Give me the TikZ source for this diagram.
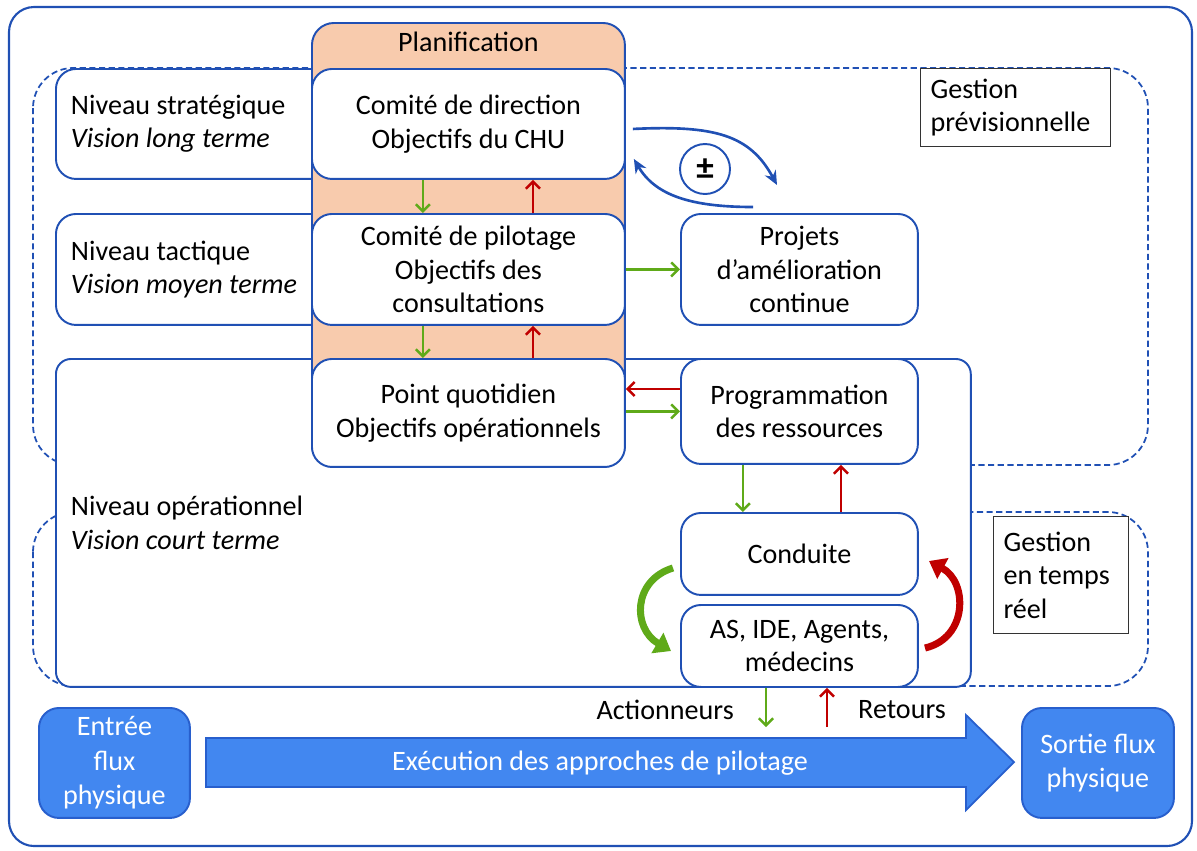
\documentclass[tikz,border=0pt]{standalone}
\usepackage{fontspec}
\setmainfont{Carlito}
\usetikzlibrary{arrows.meta}
\definecolor{bleu}{RGB}{32,80,180}
\definecolor{saumon}{RGB}{248,203,173}
\definecolor{vert}{RGB}{95,170,25}
\definecolor{rouge}{RGB}{192,0,0}
\definecolor{flux}{RGB}{66,135,240}
\definecolor{fluxbord}{RGB}{40,95,205}
\tikzset{
	txt/.style={font=\fontsize{16}{19}\selectfont},
	boite/.style={txt, draw=bleu, line width=1.1pt, fill=white, rounded corners=0.4cm, align=center, inner sep=0pt, anchor=north west},
	niveau/.style={boite, align=flush left, inner xsep=0.3cm, text width=#1},
	gestion/.style={draw=bleu, line width=1pt, dash pattern=on 3.5pt off 2pt, rounded corners=0.8cm},
	cadre/.style={txt, draw=black!80, line width=0.6pt, fill=white, align=flush left, anchor=north west, inner ysep=0pt, inner xsep=0.2cm, text width=#1},
	physique/.style={boite, draw=fluxbord, fill=flux, text=white, font=\fontsize{16}{19.6}\selectfont},
	vertfl/.style={draw=vert, line width=1.4pt, -{Straight Barb[length=4pt,width=8pt]}},
	rougefl/.style={draw=rouge, line width=1.4pt, -{Straight Barb[length=4pt,width=8pt]}},
	boucle/.style={draw=bleu, line width=1.5pt, -{Stealth[length=8pt,width=7pt]}},
	epais/.style={draw=#1, line width=4pt, -{Triangle[length=9pt,width=13pt]}}
}

\begin{document}
\begin{tikzpicture}[x=0.02cm, y=-0.02cm]
	%%%%% START %%%%%
	\useasboundingbox (0,0) rectangle (1197,850);
	\draw[bleu, line width=1.2pt, rounded corners=0.5cm] (9,7) rectangle (1192,846);
	
	% zones de gestion
	\draw[gestion] (33,68) rectangle (1148,465);
	\draw[gestion] (33,512) rectangle (1148,686);
	
	% niveaux
	\node[niveau=10.7cm, minimum height=2.2cm] (strat) at (55,68) {Niveau stratégique\\\textit{Vision long terme}};
	\node[niveau=10.7cm, minimum height=2.22cm] (tact) at (55,213) {Niveau tactique\\\textit{Vision moyen terme}};
	\node[niveau=17.7cm, minimum height=6.56cm, rounded corners=0.3cm] (oper) at (55,358) {Niveau opérationnel\\\textit{Vision court terme}};
	
	% planification
	\node[boite, fill=saumon, minimum width=6.26cm, minimum height=8.88cm, rounded corners=0.44cm,
		label={[txt, anchor=north, inner sep=0pt, yshift=-0.2cm]north:Planification}] (planif) at (311,22) {};
	\node[boite, minimum width=6.26cm, minimum height=2.2cm] (dir) at (311,68) {Comité de direction\\Objectifs du CHU};
	\node[boite, minimum width=6.26cm, minimum height=2.22cm] (pil) at (311,213) {Comité de pilotage\\Objectifs des\\consultations};
	\node[boite, minimum width=6.26cm, minimum height=2.16cm] (quot) at (311,358) {Point quotidien\\Objectifs opérationnels};
	
	\node[boite, minimum width=4.74cm, minimum height=2.22cm] (projets) at (680,213) {Projets\\d’amélioration\\continue};
	\node[boite, minimum width=4.74cm, minimum height=2.1cm] (prog) at (680,358) {Programmation\\des ressources};
	\node[boite, minimum width=4.74cm, minimum height=1.64cm] (cond) at (680,512) {Conduite};
	\node[boite, minimum width=4.74cm, minimum height=1.64cm] (agents) at (680,604) {AS, IDE, Agents,\\médecins};
	
	\node[cadre=3.4cm, minimum height=1.56cm] (gprev) at (920,68) {Gestion\\prévisionnelle};
	\node[cadre=2.3cm, minimum height=2.34cm] (gtr) at (993,516) {Gestion\\en temps\\réel};
	
	% boucle +/-
	\node[draw=bleu, line width=1.1pt, circle, minimum size=1cm, inner sep=0pt, font=\fontsize{20}{20}\selectfont\bfseries] (pm) at (705,169) {±};
	\coordinate (b1) at (777,185);
	\coordinate (b2) at (753,207);
	\draw[boucle] ([xshift=0.14cm,yshift=-0.1cm]dir.east) .. controls (715,125) and (750,135) .. (b1);
	\draw[boucle] (b2) .. controls (690,207) and (655,195) .. ([xshift=0.16cm,yshift=-0.7cm]dir.east);
	
	% descentes et retours
	\draw[vertfl] ([xshift=-0.91cm]dir.south) -- ([xshift=-0.91cm]pil.north);
	\draw[rougefl] ([xshift=1.29cm]pil.north) -- ([xshift=1.29cm]dir.south);
	\draw[vertfl] ([xshift=-0.91cm]pil.south) -- ([xshift=-0.91cm]quot.north);
	\draw[rougefl] ([xshift=1.29cm]quot.north) -- ([xshift=1.29cm]pil.south);
	\draw[vertfl] (pil.east) -- (projets.west);
	\draw[rougefl] ([yshift=0.45cm]prog.west) -- ([yshift=0.45cm]prog.west -| quot.east);
	\draw[vertfl] (quot.east |- prog.west) -- (prog.west);
	\draw[vertfl] ([xshift=-1.13cm]prog.south) -- ([xshift=-1.13cm]cond.north);
	\draw[rougefl] ([xshift=0.83cm]cond.north) -- ([xshift=0.83cm]prog.south);
	
	\draw[epais=vert] (673,568) .. controls (633,580) and (632,628) .. (671,651);
	\draw[epais=rouge] (925,648) .. controls (968,638) and (968,582) .. (929,561);
	
	\coordinate (act) at (766,727);
	\coordinate (ret) at (827,727);
	\draw[vertfl] (agents.south -| act) -- (act);
	\draw[rougefl] (ret) -- (agents.south -| ret);
	\node[txt, anchor=east] (lact) at (740,710) {Actionneurs};
	\node[txt, anchor=west] (lret) at (852,710) {Retours};
	
	% flux physique
	\node[physique, minimum width=3.02cm, minimum height=2.2cm] (entree) at (38,707) {Entrée\\flux\\physique};
	\node[physique, minimum width=3.04cm, minimum height=2.2cm] (sortie) at (1021,707) {Sortie flux\\physique};
	\draw[fill=flux, draw=fluxbord, line width=1pt] (206,738) -- (966,738) -- (966,715) -- (1014,762) -- (966,810) -- (966,787) -- (206,787) -- cycle;
	\node[txt, text=white] (exec) at (600,763) {Exécution des approches de pilotage};
	%%%%% END %%%%%
\end{tikzpicture}
\end{document}
